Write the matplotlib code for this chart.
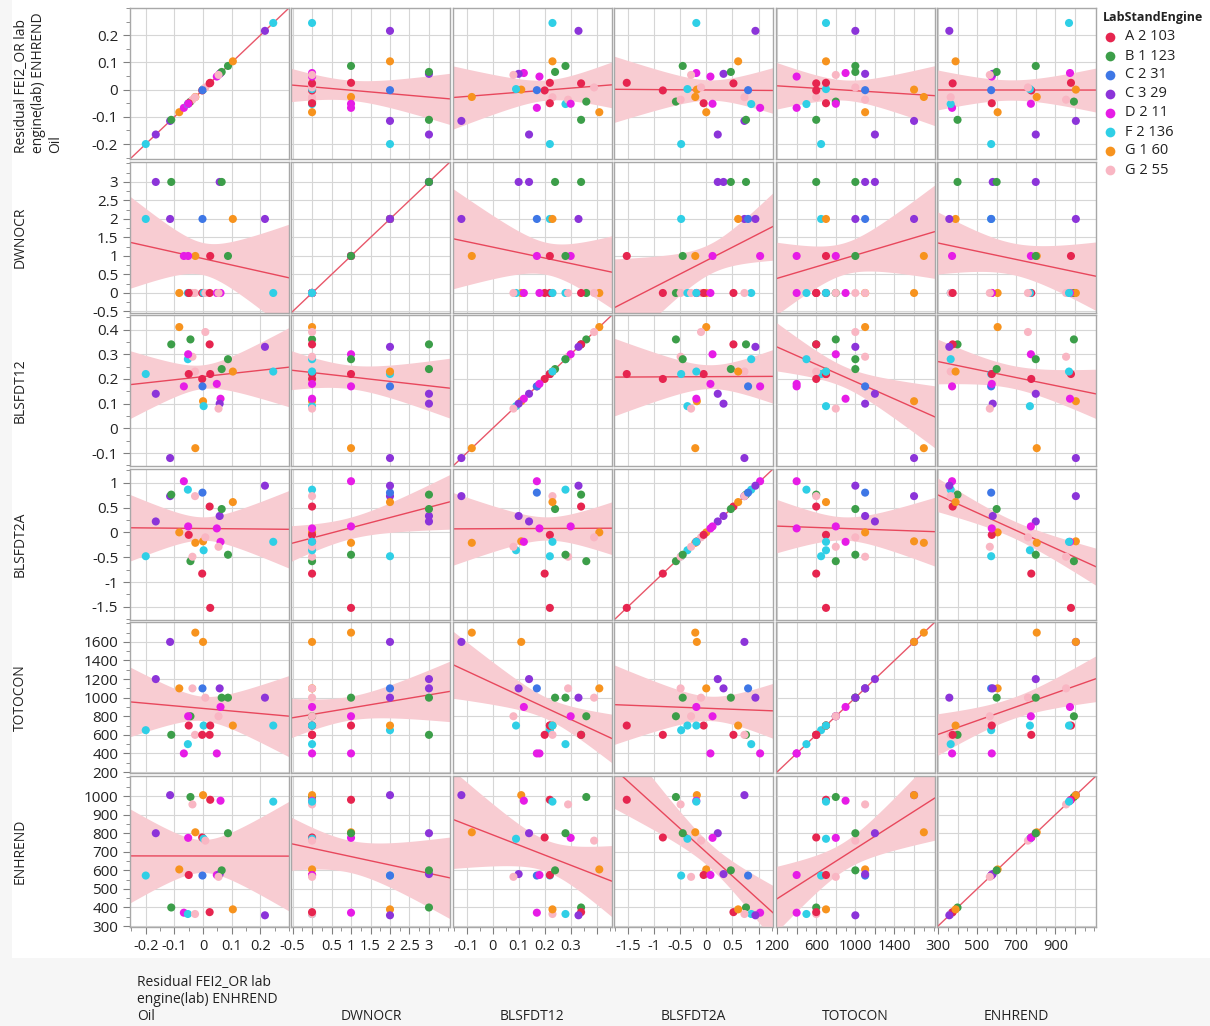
import numpy as np
import matplotlib
matplotlib.use("Agg")
import matplotlib.pyplot as plt
from matplotlib.ticker import FixedLocator, AutoMinorLocator, FixedFormatter
from matplotlib.patches import Rectangle
from matplotlib.lines import Line2D

plt.rcParams['font.family'] = ['Open Sans', 'DejaVu Sans']
plt.rcParams['axes.unicode_minus'] = False

# groups and their colours
groups = ['A 2 103', 'B 1 123', 'C 2 31', 'C 3 29', 'D 2 11', 'F 2 136', 'G 1 60', 'G 2 55']
colors = ['#E6254F', '#3C9E49', '#3E77E6', '#8C34D9', '#E61CE6', '#2FCFE6', '#F7931E', '#F9B6C3']

# one entry per observation
grp = ['F 2 136', 'C 3 29', 'C 3 29', 'B 1 123', 'G 1 60', 'D 2 11', 'F 2 136', 'B 1 123',
       'G 2 55', 'G 1 60', 'G 2 55', 'G 1 60', 'A 2 103', 'F 2 136', 'G 2 55', 'C 2 31',
       'A 2 103', 'A 2 103', 'A 2 103', 'D 2 11', 'D 2 11', 'D 2 11', 'C 3 29', 'B 1 123',
       'G 2 55', 'B 1 123', 'G 1 60', 'C 3 29', 'F 2 136']
resid = [-0.200, -0.165, -0.115, -0.111, -0.083, -0.067, -0.053, -0.044,
         -0.037, -0.027, -0.028, 0.000, -0.003, 0.002, 0.008, -0.002,
         0.025, 0.023, -0.050, 0.061, -0.052, 0.048, 0.058, 0.065,
         0.054, 0.087, 0.104, 0.216, 0.245]
dwnocr = [2, 3, 2, 3, 0, 1, 0, 0,
          0, 1, 0, 0, 0, 0, 0, 2,
          1, 0, 0, 0, 1, 0, 3, 3,
          0, 1, 2, 2, 0]
blsfdt12 = [0.22, 0.14, -0.12, 0.34, 0.41, 0.17, 0.28, 0.36,
            0.29, -0.08, 0.23, 0.11, 0.20, 0.09, 0.39, 0.17,
            0.22, 0.34, 0.22, 0.12, 0.30, 0.18, 0.10, 0.24,
            0.08, 0.28, 0.23, 0.33, 0.23]
blsfdt2a = [-0.48, 0.22, 0.73, 0.76, 0.00, 1.03, 0.86, -0.58,
            -0.49, -0.21, 0.73, -0.18, -0.83, -0.36, -0.10, 0.80,
            -1.52, 0.52, -0.05, -0.19, 0.12, 0.08, 0.33, 0.47,
            -0.29, -0.45, 0.61, 0.94, -0.19]
totocon = [650, 1200, 1600, 600, 1100, 400, 500, 800,
           1100, 1700, 600, 1600, 600, 700, 1000, 1100,
           700, 600, 700, 900, 800, 400, 1100, 1000,
           800, 1000, 700, 1000, 700]
enhrend = [572, 800, 1005, 400, 605, 372, 365, 995,
           955, 805, 365, 1005, 777, 770, 760, 572,
           980, 375, 575, 975, 775, 575, 580, 600,
           565, 800, 390, 358, 970]

names = ['Residual FEI2_OR lab\nengine(lab) ENHREND\nOil', 'DWNOCR', 'BLSFDT12',
         'BLSFDT2A', 'TOTOCON', 'ENHREND']
data = [np.array(v, float) for v in (resid, dwnocr, blsfdt12, blsfdt2a, totocon, enhrend)]

lims = [(-0.255, 0.30), (-0.53, 3.55), (-0.153, 0.458), (-1.76, 1.28), (185, 1810), (295, 1108)]
major = [[-0.2, -0.1, 0, 0.1, 0.2],
         list(np.arange(-0.5, 3.01, 0.5)),
         [-0.1, 0, 0.1, 0.2, 0.3, 0.4],
         [-1.5, -1, -0.5, 0, 0.5, 1],
         list(range(200, 1601, 200)),
         list(range(300, 1001, 100))]
xlabels = [['-0.2', '-0.1', '0', '0.1', '0.2'],
           ['-0.5', '', '0.5', '1', '1.5', '2', '2.5', '3'],
           ['-0.1', '0', '0.1', '0.2', '0.3', ''],
           ['-1.5', '-1', '-0.5', '0', '0.5', '1'],
           ['200', '', '600', '', '1000', '', '1400', ''],
           ['300', '', '500', '', '700', '', '900', '']]

def fmt(v):
    return '%g' % v

W, H = 1210, 1026
fig = plt.figure(figsize=(W / 100, H / 100), dpi=100)
fig.patch.set_facecolor('white')
fig.patches.append(Rectangle((0, 0), 1, (H - 958) / H, transform=fig.transFigure,
                             facecolor='#f6f6f6', edgecolor='none', zorder=-10))
fig.patches.append(Rectangle((0, 0), 12 / W, 1, transform=fig.transFigure,
                             facecolor='#f6f6f6', edgecolor='none', zorder=-10))

n = len(resid)
t95 = 2.052
gcol = {g: c for g, c in zip(groups, colors)}
pcol = [gcol[g] for g in grp]

x0, pw, dx = 130, 159, 161.4
y0, ph, dy = 8, 151, 153.6

for i in range(6):
    for j in range(6):
        left = x0 + j * dx
        top = y0 + i * dy
        ax = fig.add_axes([left / W, 1 - (top + ph) / H, pw / W, ph / H])
        xv, yv = data[j], data[i]
        ax.set_xlim(lims[j])
        ax.set_ylim(lims[i])
        xs = np.linspace(lims[j][0], lims[j][1], 200)
        if i == j:
            ax.plot(xs, xs, color='#E8576A', lw=1, zorder=2)
        else:
            b, a = np.polyfit(xv, yv, 1)
            fit = a + b * xs
            res = yv - (a + b * xv)
            s = np.sqrt(np.sum(res ** 2) / (n - 2))
            sxx = np.sum((xv - xv.mean()) ** 2)
            se = s * np.sqrt(1 / n + (xs - xv.mean()) ** 2 / sxx)
            ax.fill_between(xs, fit - t95 * se, fit + t95 * se, color='#F8CCD2', lw=0, zorder=1)
            ax.plot(xs, fit, color='#E8475C', lw=1, zorder=2)
        ax.scatter(xv, yv, s=34, c=pcol, edgecolors='none', zorder=3)

        ax.xaxis.set_major_locator(FixedLocator(major[j]))
        ax.yaxis.set_major_locator(FixedLocator(major[i]))
        ax.grid(True, color='#d6d6d6', lw=0.8, zorder=0)
        ax.set_axisbelow(True)
        for sp in ax.spines.values():
            sp.set_color('#a8a8a8')
            sp.set_linewidth(1.0)
        ax.tick_params(which='both', direction='out', color='#808080',
                       labelcolor='#222222')
        ax.tick_params(axis='y', labelsize=11)
        ax.tick_params(axis='x', labelsize=10.5)
        ax.tick_params(which='major', length=5)
        ax.tick_params(which='minor', length=3)
        if j == 0:
            ax.yaxis.set_minor_locator(AutoMinorLocator(2))
            ax.yaxis.set_major_formatter(FixedFormatter([fmt(v) for v in major[i]]))
        else:
            ax.tick_params(axis='y', which='both', left=False, labelleft=False)
        if i == 5:
            ax.xaxis.set_minor_locator(AutoMinorLocator(2))
            ax.xaxis.set_major_formatter(FixedFormatter(xlabels[j]))
        else:
            ax.tick_params(axis='x', which='both', bottom=False, labelbottom=False)

# row labels on the left
for i in range(6):
    cy = y0 + i * dy + ph / 2
    if i == 0:
        fig.text(14 / W, 1 - (y0 + ph - 6) / H, names[0], rotation=90, ha='left', va='bottom',
                 multialignment='left', fontsize=10, color='#222222', linespacing=1.2)
    else:
        fig.text(20 / W, 1 - cy / H, names[i], rotation=90, ha='center', va='center',
                 fontsize=10, color='#222222')

# column labels at the bottom
for j in range(6):
    cx = x0 + j * dx + pw / 2
    if j == 0:
        fig.text(137 / W, 1 - 1024 / H, names[0], ha='left', va='bottom',
                 multialignment='left', fontsize=10, color='#222222', linespacing=1.2)
    else:
        fig.text(cx / W, 1 - 1024 / H, names[j], ha='center', va='bottom',
                 fontsize=10, color='#222222')

# legend
fig.text(1103 / W, 1 - 18 / H, 'LabStandEngine', ha='left', va='center',
         fontsize=9, fontweight='bold', color='#222222')
for k, (g, c) in enumerate(zip(groups, colors)):
    yy = 1 - (37 + k * 19) / H
    fig.add_artist(Line2D([1110 / W], [yy], marker='o', markersize=7, color=c,
                          markeredgecolor='none', transform=fig.transFigure))
    fig.text(1125 / W, yy, g, ha='left', va='center', fontsize=10.5, color='#222222')

fig.savefig('out.png', dpi=100, facecolor=fig.get_facecolor())
